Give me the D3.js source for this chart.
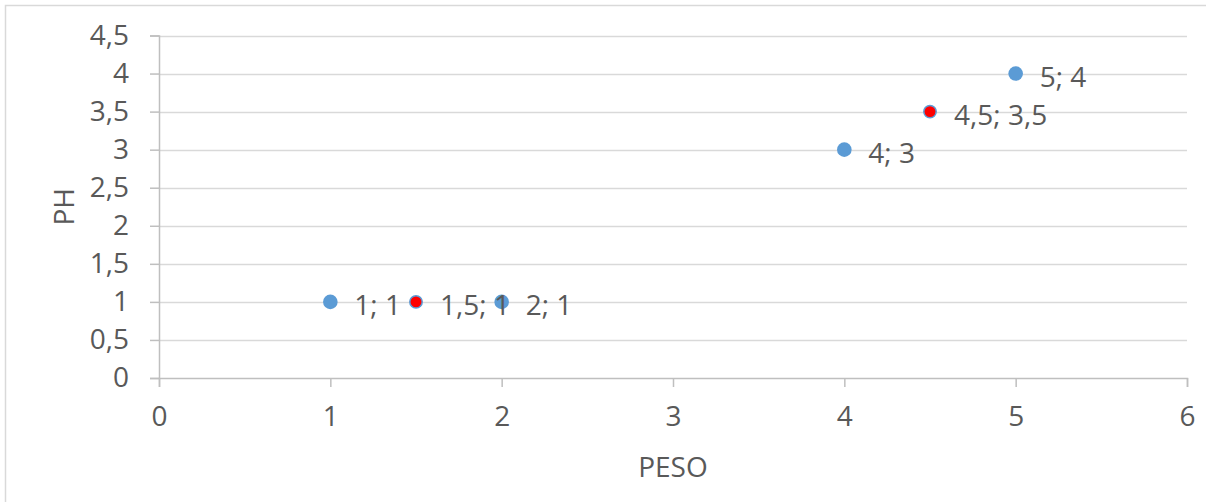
<!DOCTYPE html>
<html>
<head>
<meta charset="utf-8">
<script src="https://cdn.jsdelivr.net/npm/d3@7"></script>
<style>
  html, body { margin: 0; padding: 0; background: #fff; }
  svg { display: block; }
  text { font-family: "Open Sans", "Noto Sans", sans-serif; fill: #595959; }
</style>
</head>
<body>
<svg id="chart" width="1206" height="502"></svg>
<script>
// Series: PESO (x) vs PH (y)
const pesoBlue = [1, 2, 4, 5];
const phBlue   = [1, 1, 3, 4];
const pesoRed  = [1.5, 4.5];
const phRed    = [1, 3.5];

const xTicks = [0, 1, 2, 3, 4, 5, 6];
const yTicks = [0, 0.5, 1, 1.5, 2, 2.5, 3, 3.5, 4, 4.5];

const xTitle = "PESO";
const yTitle = "PH";

const fmt = v => String(v).replace(".", ",");

const svg = d3.select("#chart");
const W = 1206, H = 502;
const plot = { left: 159, right: 1187, top: 35.5, bottom: 378 };
const fontSize = 28;

// outer chart frame
svg.append("rect")
  .attr("x", 5.5).attr("y", 5.5)
  .attr("width", W + 10).attr("height", H + 10)
  .attr("fill", "#fff").attr("stroke", "#D9D9D9").attr("stroke-width", 1.5);

const x = d3.scaleLinear().domain([0, 6]).range([plot.left, plot.right]);
const y = d3.scaleLinear().domain([0, 4.5]).range([plot.bottom, plot.top]);

// horizontal gridlines
svg.append("g")
  .selectAll("line")
  .data(yTicks.filter(t => t > 0))
  .join("line")
  .attr("x1", plot.left).attr("x2", plot.right)
  .attr("y1", d => Math.round(y(d)) + 0.5).attr("y2", d => Math.round(y(d)) + 0.5)
  .attr("stroke", "#D9D9D9").attr("stroke-width", 1.5);

// y axis
const yAxis = svg.append("g")
  .attr("transform", `translate(${plot.left},0)`)
  .call(d3.axisLeft(y).tickValues(yTicks).tickFormat(fmt).tickSize(9).tickPadding(21));
yAxis.select(".domain").attr("stroke", "#BFBFBF").attr("stroke-width", 1.5);
yAxis.selectAll(".tick line").attr("stroke", "#BFBFBF").attr("stroke-width", 1.5);
yAxis.selectAll(".tick text")
  .attr("font-size", fontSize).attr("fill", "#595959")
  .style("font-family", "'Open Sans', sans-serif");

// x axis
const xAxis = svg.append("g")
  .attr("transform", `translate(0,${plot.bottom})`)
  .call(d3.axisBottom(x).tickValues(xTicks).tickFormat(fmt).tickSize(9).tickPadding(19));
xAxis.select(".domain").attr("stroke", "#BFBFBF").attr("stroke-width", 1.5);
xAxis.selectAll(".tick line").attr("stroke", "#BFBFBF").attr("stroke-width", 1.5);
xAxis.selectAll(".tick text")
  .attr("font-size", fontSize).attr("fill", "#595959")
  .style("font-family", "'Open Sans', sans-serif");

// axis titles
svg.append("text")
  .attr("x", (plot.left + plot.right) / 2).attr("y", 466)
  .attr("text-anchor", "middle").attr("dominant-baseline", "central")
  .attr("font-size", fontSize).text(xTitle);

svg.append("text")
  .attr("transform", `translate(63,${(plot.top + plot.bottom) / 2}) rotate(-90)`)
  .attr("text-anchor", "middle").attr("dominant-baseline", "central")
  .attr("font-size", fontSize).text(yTitle);

// points and their labels
const blue = pesoBlue.map((v, i) => ({ x: v, y: phBlue[i], red: false }));
const red = pesoRed.map((v, i) => ({ x: v, y: phRed[i], red: true }));
const pts = blue.concat(red);

const g = svg.append("g");
g.selectAll("circle")
  .data(pts)
  .join("circle")
  .attr("cx", d => x(d.x)).attr("cy", d => y(d.y))
  .attr("r", d => d.red ? 6.2 : 7.3)
  .attr("fill", d => d.red ? "#FF0000" : "#5B9BD5")
  .attr("stroke", d => d.red ? "#5B9BD5" : "none")
  .attr("stroke-width", 1.5);

g.selectAll("text")
  .data(pts)
  .join("text")
  .attr("x", d => x(d.x) + 24).attr("y", d => y(d.y) + 2)
  .attr("dominant-baseline", "central")
  .attr("font-size", fontSize).attr("fill", "#404040")
  .text(d => `${fmt(d.x)}; ${fmt(d.y)}`);
</script>
</body>
</html>
